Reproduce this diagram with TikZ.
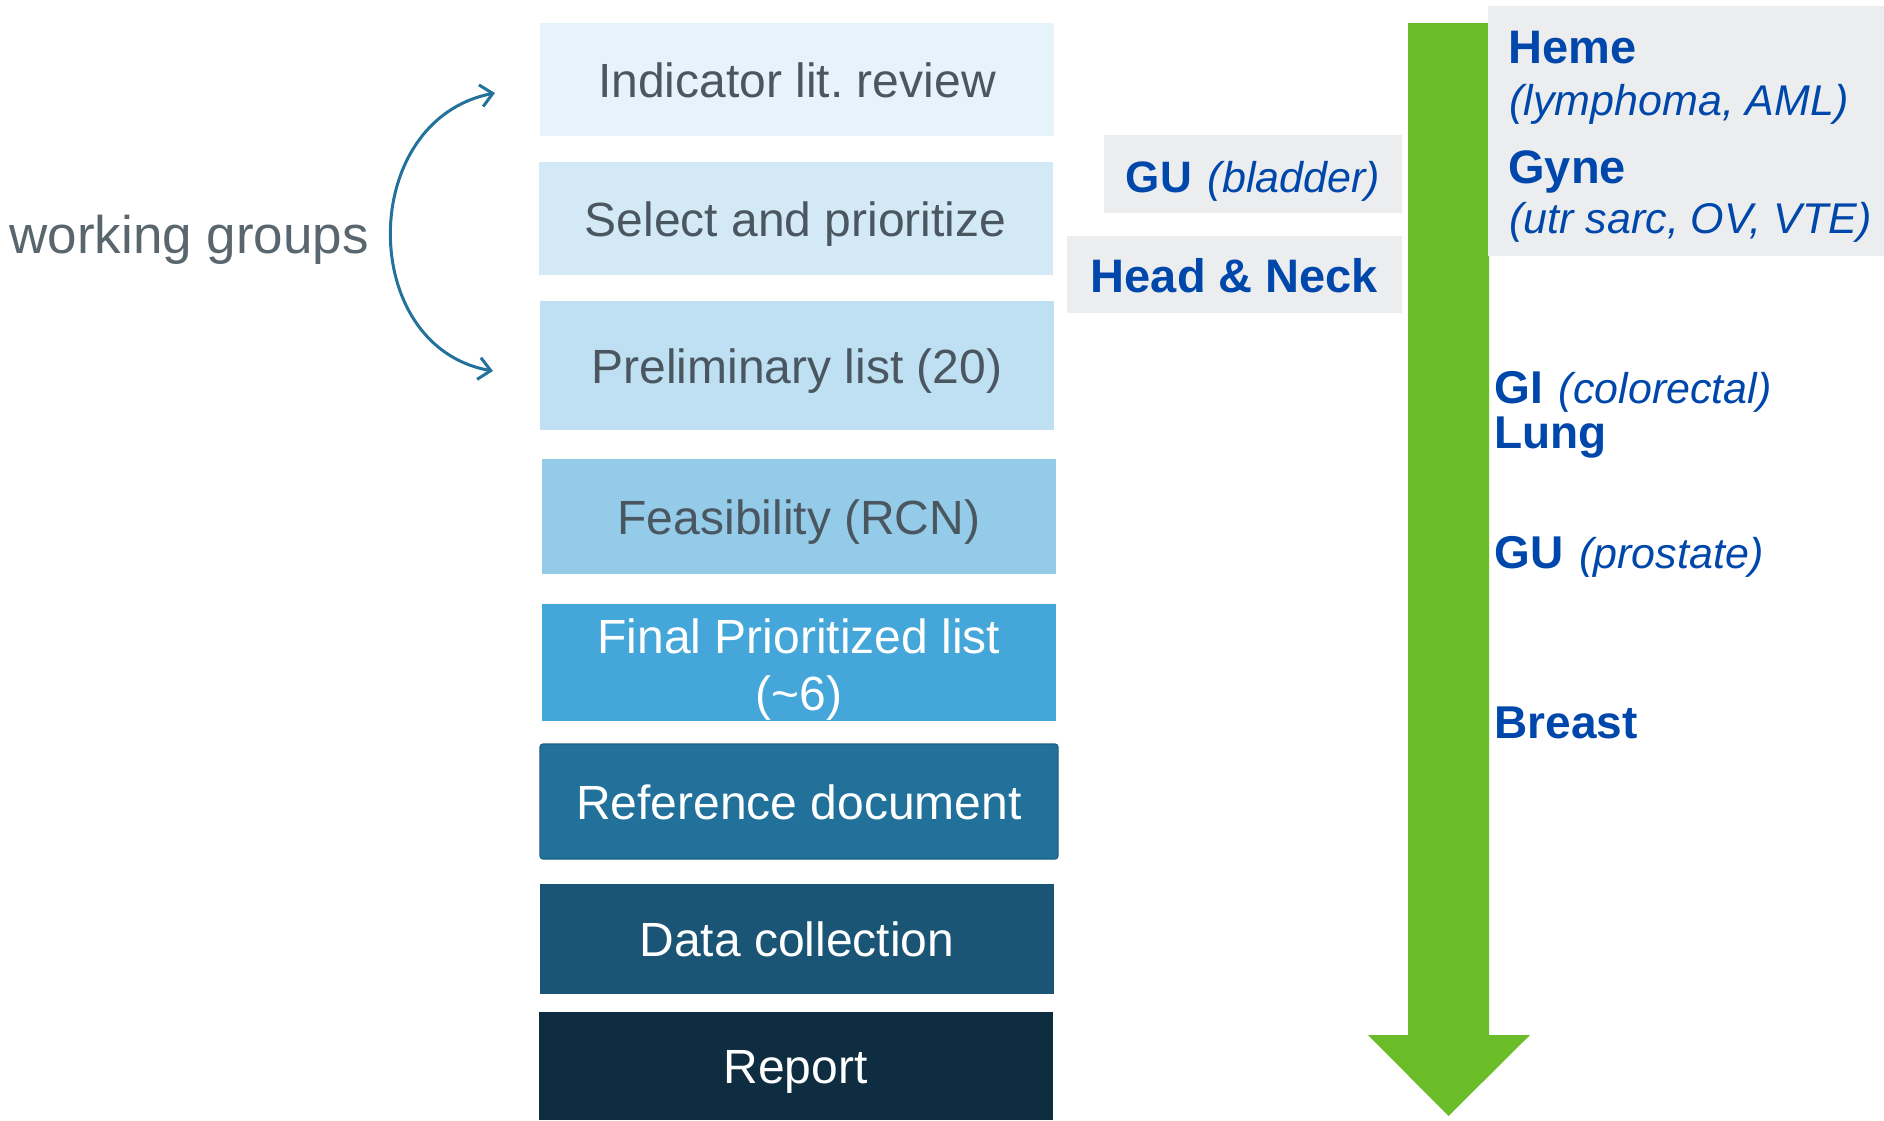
\documentclass[tikz,border=0pt]{standalone}
\usepackage{fontspec}
\setmainfont{Liberation Sans}
\usetikzlibrary{arrows.meta,calc}
\definecolor{boxtext}{HTML}{4B5760}
\definecolor{wgtext}{HTML}{5A666E}
\definecolor{arrowblue}{HTML}{22729B}
\definecolor{cA}{HTML}{E7F3FA}
\definecolor{cB}{HTML}{D3EAF6}
\definecolor{cC}{HTML}{BEE0F2}
\definecolor{cD}{HTML}{93CBE9}
\definecolor{cE}{HTML}{44A6D9}
\definecolor{cF}{HTML}{21719A}
\definecolor{cG}{HTML}{1B5575}
\definecolor{cH}{HTML}{0F2D40}
\definecolor{lgray}{HTML}{ECEDEF}
\definecolor{dblue}{HTML}{0047AB}
\definecolor{mygreen}{HTML}{6ABD28}
\newcommand{\itpart}[1]{{\fontsize{21.5}{26}\selectfont\itshape\mdseries #1}}
\frenchspacing
\begin{document}
\begin{tikzpicture}[x=0.5pt,y=-0.5pt,
  stepbox/.style={rectangle, inner sep=0pt, outer sep=0pt, minimum width=257pt,
    align=center, font=\fontsize{24}{30}\selectfont, text height=17.5pt, text depth=0pt},
  darktext/.style={text=boxtext},
  lighttext/.style={text=white},
  graybox/.style={rectangle, fill=lgray, inner sep=0pt, outer sep=0pt},
  bluebold/.style={text=dblue, font=\fontsize{23}{28}\selectfont\bfseries, anchor=base west, inner sep=0pt},
  blueit/.style={text=dblue, font=\fontsize{21.5}{26}\selectfont\itshape, anchor=base west, inner sep=0pt},
  wgarrow/.style={draw=arrowblue, line width=1.5pt, {Straight Barb[length=6pt,width=11pt]}-{Straight Barb[length=6pt,width=11pt]}},
]
\useasboundingbox (0,0) rectangle (1884,1120);

% left column of steps
\node[stepbox, darktext, fill=cA, minimum height=56.5pt] (b1) at (797,79.5) {Indicator lit. review};
\node[stepbox, darktext, fill=cB, minimum height=56.5pt] (b2) at (795.5,218.5) {Select and prioritize};
\node[stepbox, darktext, fill=cC, minimum height=64.5pt] (b3) at (797,365.5) {Preliminary list (20)};
\node[stepbox, darktext, fill=cD, minimum height=57.5pt] (b4) at (799,516.5) {Feasibility (RCN)};
\node[stepbox, fill=cE, minimum height=58.5pt] (b5) at (799,662.5) {};
\node[lighttext, align=center, inner sep=0pt, font=\fontsize{24}{28.75}\selectfont] (b5t) at ($(b5.center)+(0,7)$) {Final Prioritized list\\(\textasciitilde6)};
\node[stepbox, lighttext, fill=cF, draw=cF!85!black, line width=0.6pt, rounded corners=1.5pt, minimum width=259pt, minimum height=57.5pt] (b6) at (799,801.5) {Reference document};
\node[stepbox, lighttext, fill=cG, minimum height=55pt] (b7) at (797,939) {Data collection};
\node[stepbox, lighttext, fill=cH, minimum height=54pt] (b8) at (795.5,1066) {Report};

% working groups
\node[text=wgtext, font=\fontsize{26.5}{32}\selectfont, anchor=base west, inner sep=0pt] (wg) at (9,253) {working groups};
\draw[wgarrow] ($(b1.west)+(-45,13.5)$) .. controls (357,120) and (357,347) .. ($(b3.west)+(-47,5.5)$);

% green arrow
\fill[mygreen] (1408,23) -- (1489,23) -- (1489,1035) -- (1530,1035) -- (1448.5,1116)
  -- (1368,1035) -- (1408,1035) -- cycle;

% gray label boxes
\node[graybox, minimum width=198pt, minimum height=125pt] (rg) at (1686,131) {};
\node[graybox, minimum width=149pt, minimum height=39pt, text=dblue,
  font=\fontsize{22}{28}\selectfont\bfseries, text height=23pt, text depth=5pt] (gub) at (1253,174)
  {GU\hspace{8pt}\itpart{(bladder)}};
\node[graybox, minimum width=167.5pt, minimum height=38.5pt, text=dblue,
  font=\fontsize{23.5}{28}\selectfont\bfseries, text height=22.5pt, text depth=5pt] (hn) at (1234.5,274.5)
  {Head \& Neck};

% texts in right gray box
\node[bluebold, font=\fontsize{23.5}{28}\selectfont\bfseries] (heme) at (1508,63) {Heme};
\node[blueit] (hemesub) at (1509,115) {(lymphoma, AML)};
\node[bluebold, font=\fontsize{23.5}{28}\selectfont\bfseries] (gyne) at (1508,183) {Gyne};
\node[blueit] (gynesub) at (1509,233) {(utr sarc, OV, VTE)};

% texts beside green arrow
\node[bluebold] (gi) at (1494,403) {GI\hspace{8pt}\itpart{(colorectal)}};
\node[bluebold] (lung) at (1494,448) {Lung};
\node[bluebold] (gup) at (1494,568) {GU\hspace{8pt}\itpart{(prostate)}};
\node[bluebold] (breast) at (1494,738) {Breast};
\end{tikzpicture}
\end{document}
